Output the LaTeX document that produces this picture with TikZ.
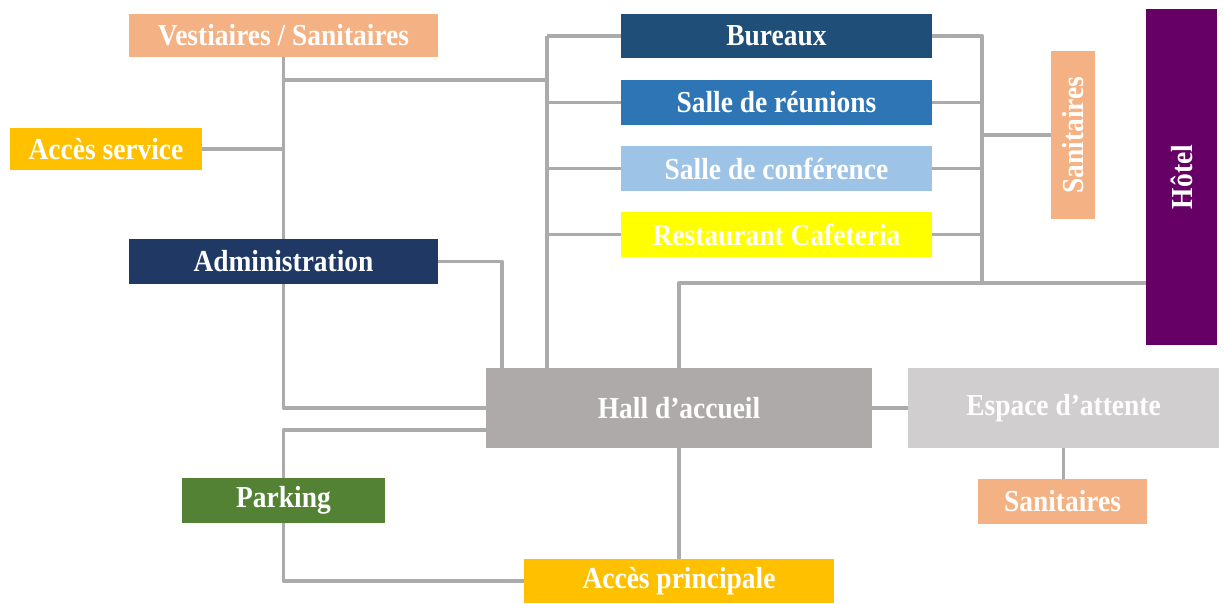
\documentclass[tikz,border=0pt]{standalone}
\usepackage{fontspec}
\setmainfont{Liberation Serif}[FakeStretch=0.9]
\usetikzlibrary{calc}
\definecolor{cSalmon}{HTML}{F4B183}
\definecolor{cGold}{HTML}{FFC000}
\definecolor{cNavy}{HTML}{1F3864}
\definecolor{cBur}{HTML}{1F4E79}
\definecolor{cReun}{HTML}{2E75B6}
\definecolor{cConf}{HTML}{9DC3E6}
\definecolor{cYellow}{HTML}{FFFF00}
\definecolor{cHotel}{HTML}{660066}
\definecolor{cHall}{HTML}{AEAAAA}
\definecolor{cEsp}{HTML}{D0CECE}
\definecolor{cPark}{HTML}{548235}
\definecolor{cLine}{HTML}{ABABAB}
\tikzset{
  box/.style={rectangle, inner sep=0pt, text=white,
    font=\fontsize{30.5}{32}\selectfont\bfseries},
  conn/.style={draw=cLine, line width=3.3pt, line join=round}
}
\begin{document}
\begin{tikzpicture}[x=1pt,y=1pt]
\useasboundingbox (0,0) rectangle (1224,-603);
\coordinate (busL) at (547,-36);
\coordinate (busR) at (982,-36);
\coordinate (hbus) at (679,-283);
\coordinate (jv) at (283.5,-80);
\coordinate (ja) at (502,-261.5);
\coordinate (hp) at (486,-430);
% nodes
\node[box, fill=cSalmon, minimum width=309, minimum height=43] (vest) at (283.5,-35.5) {Vestiaires / Sanitaires};
\node[box, fill=cGold, minimum width=192, minimum height=42] (accs) at (106,-149) {Accès service};
\node[box, fill=cNavy, minimum width=309, minimum height=45] (admin) at (283.5,-261.5) {Administration};
\node[box, fill=cBur, minimum width=311, minimum height=44] (bur) at (776.5,-36) {Bureaux};
\node[box, fill=cReun, minimum width=311, minimum height=45] (reun) at (776.5,-102.5) {Salle de réunions};
\node[box, fill=cConf, minimum width=311, minimum height=45] (conf) at (776.5,-168.5) {Salle de conférence};
\node[box, fill=cYellow, minimum width=311, minimum height=45] (rest) at (776.5,-234.5) {Restaurant Cafeteria};
\node[box, fill=cSalmon, minimum width=44, minimum height=168] (sanv) at (1073,-135) {};
\node[box, rotate=90] at (sanv.center) {Sanitaires};
\node[box, fill=cHotel, minimum width=71, minimum height=336] (hotel) at (1181.5,-177) {};
\node[box, rotate=90] at (hotel.center) {Hôtel};
\node[box, fill=cHall, minimum width=386, minimum height=80] (hall) at (679,-408) {Hall d’accueil};
\node[box, fill=cEsp, minimum width=311, minimum height=80] (esp) at (1063.5,-408) {Espace d’attente};
\node[box, fill=cSalmon, minimum width=169, minimum height=45] (san2) at (1062.5,-501.5) {Sanitaires};
\node[box, fill=cPark, minimum width=203, minimum height=45] (park) at (283.5,-500.5) {Parking};
\node[box, fill=cGold, minimum width=310, minimum height=44] (accp) at (679,-581) {Accès principale};
% left side
\draw[conn] (vest.south) -- (admin.north);
\draw[conn] (jv) -- (jv -| busL);
\draw[conn] (accs.east) -- (accs.east -| vest.south);
\draw[conn] (admin.east) -- (ja) -- (ja |- hall.north);
\draw[conn] (admin.south) |- (hall.west);
\draw[conn] (hp) -| (park.north);
\draw[conn] (park.south) |- (accp.west);
\draw[conn] (hall.south) -- (accp.north);
\draw[conn] (hall.east) -- (esp.west);
\draw[conn] (esp.south) -- (esp.south |- san2.north);
% left bus
\draw[conn] (busL) -- (busL |- hall.north);
\draw[conn] (busL) -- (bur.west);
\draw[conn] (reun.west -| busL) -- (reun.west);
\draw[conn] (conf.west -| busL) -- (conf.west);
\draw[conn] (rest.west -| busL) -- (rest.west);
% right bus
\draw[conn] (bur.east) -- (busR) -- (busR |- hbus);
\draw[conn] (reun.east) -- (reun.east -| busR);
\draw[conn] (conf.east) -- (conf.east -| busR);
\draw[conn] (rest.east) -- (rest.east -| busR);
\draw[conn] (sanv.west -| busR) -- (sanv.west);
\draw[conn] (hall.north) -- (hbus) -- (hbus -| hotel.west);
\end{tikzpicture}
\end{document}
